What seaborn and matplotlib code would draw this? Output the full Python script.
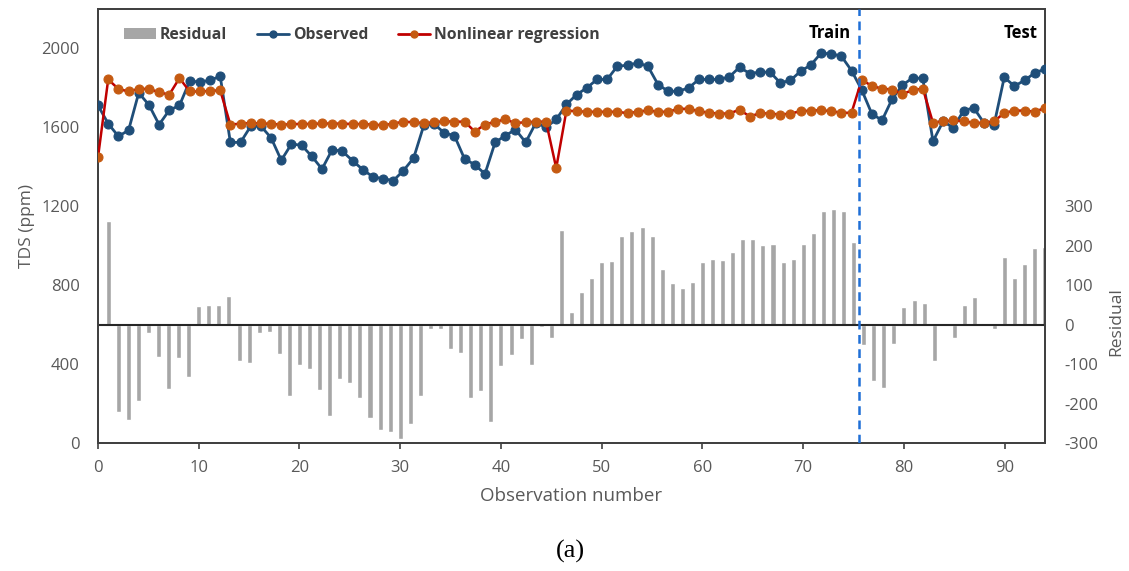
import numpy as np
import pandas as pd
import matplotlib
matplotlib.use("Agg")
import matplotlib.pyplot as plt
import seaborn as sns
from matplotlib.patches import Patch
from matplotlib.lines import Line2D

# ---------------- data ----------------
observed = [1711, 1619, 1555, 1585, 1775, 1714, 1614, 1687, 1711, 1834,
            1831, 1838, 1860, 1524, 1524, 1606, 1606, 1547, 1433, 1516,
            1509, 1453, 1389, 1487, 1479, 1431, 1386, 1349, 1340, 1330,
            1381, 1445, 1611, 1618, 1572, 1558, 1440, 1411, 1364, 1524,
            1558, 1589, 1524, 1623, 1601, 1640, 1716, 1766, 1800, 1843,
            1843, 1910, 1915, 1927, 1910, 1817, 1783, 1783, 1800, 1843,
            1843, 1843, 1856, 1905, 1873, 1880, 1880, 1826, 1838, 1885,
            1916, 1976, 1973, 1961, 1888, 1790, 1668, 1636, 1745, 1814,
            1851, 1848, 1530, 1631, 1597, 1685, 1699, 1623, 1614, 1854,
            1809, 1839, 1876, 1896]

predicted = [1448, 1843, 1795, 1782, 1795, 1795, 1778, 1766, 1850, 1782,
             1782, 1785, 1788, 1614, 1619, 1622, 1620, 1618, 1614, 1616,
             1618, 1617, 1620, 1619, 1619, 1617, 1617, 1614, 1611, 1619,
             1629, 1626, 1622, 1626, 1631, 1629, 1629, 1579, 1614, 1629,
             1640, 1622, 1626, 1629, 1629, 1394, 1685, 1682, 1679, 1679,
             1679, 1679, 1672, 1679, 1686, 1679, 1679, 1694, 1694, 1682,
             1674, 1670, 1670, 1690, 1655, 1672, 1670, 1665, 1670, 1682,
             1685, 1687, 1682, 1674, 1674, 1841, 1810, 1796, 1792, 1770,
             1788, 1797, 1623, 1631, 1635, 1631, 1623, 1623, 1631, 1673,
             1685, 1685, 1679, 1699]

residual = [263, -221, -242, -194, -21, -82, -162, -84, -132, 47,
            50, 50, 72, -92, -96, -22, -18, -75, -181, -102,
            -113, -165, -231, -138, -148, -187, -236, -266, -272, -291,
            -253, -181, -12, -12, -61, -73, -187, -169, -247, -105,
            -77, -37, -102, -7, -33, 240, 33, 83, 117, 159,
            161, 225, 238, 247, 225, 142, 105, 94, 107, 159,
            166, 164, 184, 218, 216, 203, 204, 159, 166, 204,
            231, 288, 292, 288, 210, -52, -143, -160, -49, 44,
            62, 55, -93, 2, -33, 49, 71, 3, -11, 171,
            119, 153, 193, 197]

left_ticks = [0, 400, 800, 1200, 1600, 2000]
right_ticks = [-300, -200, -100, 0, 100, 200, 300]
x_ticks = [0, 10, 20, 30, 40, 50, 60, 70, 80, 90]
split_at = 75.5

# positions: lines spread over the full axis, bars at observation numbers 1..94
n = len(observed)
x_line = np.linspace(0, 94, n)
bar_pos = np.arange(1, n + 1)

# ---------------- styling ----------------
sns.set_theme(style="white")
plt.rcParams['font.family'] = ['Open Sans', 'DejaVu Sans']
TXT = "#595959"
BLUE = "#1F4E79"
RED = "#C00000"
ORANGE = "#C55A11"
GRAY = "#A6A6A6"

fig = plt.figure(figsize=(11.29, 5.71), dpi=100)
ax = fig.add_axes([0.0868, 0.2242, 0.8388, 0.7600])
ax2 = ax.twinx()

# residual bars (secondary axis)
sns.barplot(x=bar_pos, y=residual, native_scale=True, width=0.5,
            color=GRAY, saturation=1, ax=ax2, errorbar=None, zorder=1)
ax2.axhline(0, color="#262626", lw=1.5, zorder=2)

# lines (primary axis)
sns.lineplot(x=x_line, y=observed, ax=ax, color=BLUE, lw=2.0,
             marker="o", markersize=6.5, markerfacecolor=BLUE,
             markeredgecolor=BLUE, zorder=3)
sns.lineplot(x=x_line, y=predicted, ax=ax, color=RED, lw=1.8,
             marker="o", markersize=6.5, markerfacecolor=ORANGE,
             markeredgecolor=ORANGE, zorder=4)
ax.axvline(split_at, color="#1F6FD6", lw=1.8, ls=(0, (3.5, 2.2)), zorder=5)

ax.set_zorder(ax2.get_zorder() + 1)
ax.patch.set_visible(False)

ax.set_xlim(0, 94)
ax.set_ylim(0, 2200)
ax2.set_ylim(-300, 800)
ax.set_xticks(x_ticks)
ax.set_xticklabels([str(t) for t in x_ticks])
ax.set_yticks(left_ticks)
ax.set_yticklabels([str(t) for t in left_ticks])
ax2.set_yticks(right_ticks)
ax2.set_yticklabels([str(t) for t in right_ticks])

ax.tick_params(axis="x", direction="out", length=4, width=1.2, color="#404040",
               labelsize=12, labelcolor=TXT, pad=8, bottom=True)
ax.tick_params(axis="y", length=0, labelsize=12, labelcolor=TXT, pad=13)
ax2.tick_params(axis="y", length=0, labelsize=12, labelcolor=TXT, pad=14)

ax.set_xlabel("Observation number", fontsize=13.5, color=TXT, labelpad=8)
ax.set_ylabel("TDS (ppm)", fontsize=12.5, color=TXT)
ax.yaxis.set_label_coords(-0.066, 0.5)
ax2.set_ylabel("Residual", fontsize=12.5, color=TXT)
ax2.yaxis.set_label_coords(1.067, 0.279)

for a in (ax, ax2):
    for s in a.spines.values():
        s.set_color("#404040")
        s.set_linewidth(1.3)
        s.set_visible(True)

ax.text(72.6, 2080, "Train", fontsize=12, fontweight="bold", color="black",
        ha="center", va="center")
ax.text(93.3, 2080, "Test", fontsize=12, fontweight="bold", color="black",
        ha="right", va="center")

handles = [
    Patch(facecolor=GRAY, edgecolor="none", label="Residual"),
    Line2D([0], [0], color=BLUE, lw=2, marker="o", markersize=5,
           markerfacecolor=BLUE, markeredgecolor=BLUE, label="Observed"),
    Line2D([0], [0], color=RED, lw=2, marker="o", markersize=5,
           markerfacecolor=ORANGE, markeredgecolor=ORANGE,
           label="Nonlinear regression"),
]
leg = ax.legend(handles=handles, loc="center left", bbox_to_anchor=(0.027, 0.94),
                ncol=3, frameon=False, handlelength=2.05,
                handletextpad=0.25, columnspacing=1.9, borderaxespad=0,
                borderpad=0, prop={"weight": "bold", "size": 11.3})
for t in leg.get_texts():
    t.set_color("#404040")

fig.text(0.505, 0.035, "(a)", fontsize=19, family="Liberation Serif",
         ha="center", va="center", color="black")

fig.savefig("out.png", dpi=100)
